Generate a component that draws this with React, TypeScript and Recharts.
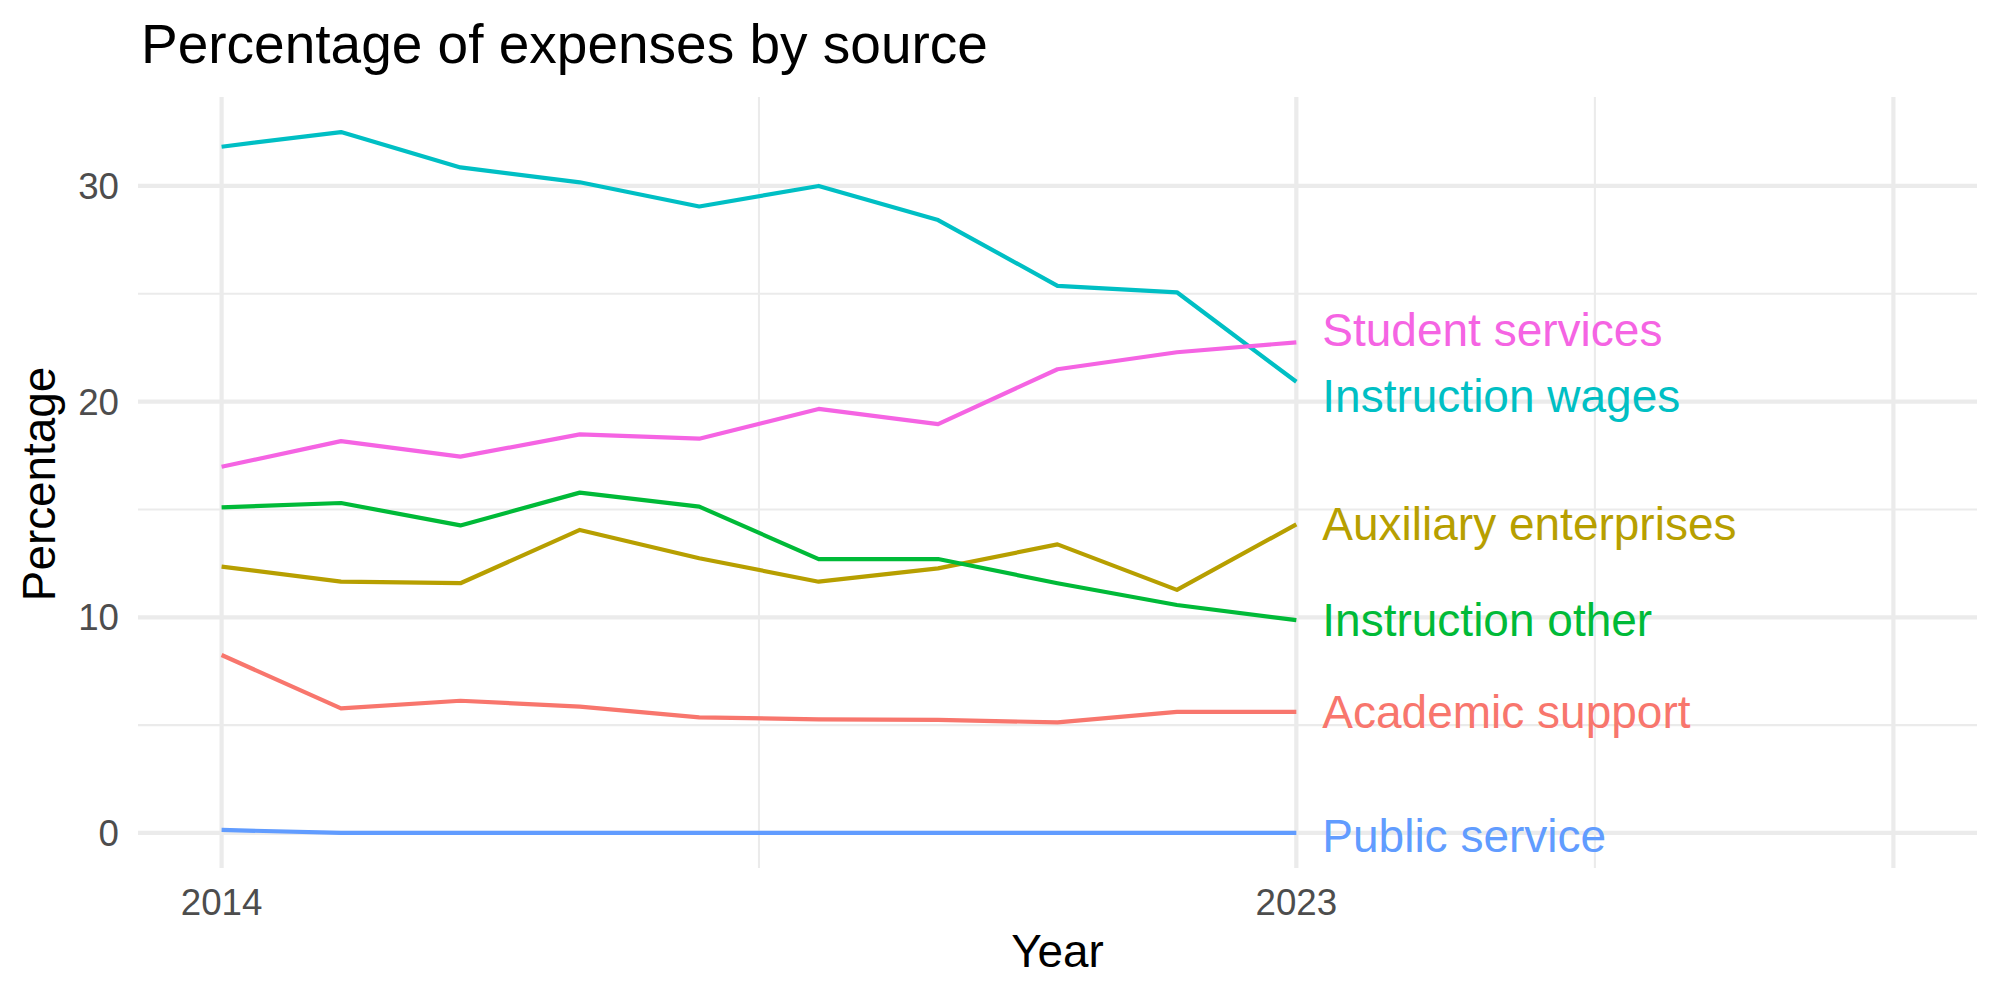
import { LineChart, Line, XAxis, YAxis, ReferenceLine, LabelList } from 'recharts';

const FONT = '"Liberation Sans", Arial, Helvetica, sans-serif';

const years = [2014, 2015, 2016, 2017, 2018, 2019, 2020, 2021, 2022, 2023];

const academicSupport = [8.25, 5.78, 6.13, 5.86, 5.36, 5.27, 5.24, 5.13, 5.61, 5.61];
const auxiliaryEnterprises = [12.35, 11.65, 11.58, 14.05, 12.74, 11.65, 12.27, 13.38, 11.27, 14.31];
const instructionOther = [15.1, 15.3, 14.26, 15.78, 15.13, 12.7, 12.7, 11.58, 10.57, 9.87];
const instructionWages = [31.82, 32.5, 30.86, 30.17, 29.05, 30.0, 28.42, 25.37, 25.07, 20.92];
const publicService = [0.14, 0, 0, 0, 0, 0, 0, 0, 0, 0];
const studentServices = [16.98, 18.17, 17.45, 18.48, 18.28, 19.66, 18.96, 21.5, 22.29, 22.75];

const xTicks = [2014, 2023];
const xMajorGrid = [2014, 2023, 2028];
const xMinorGrid = [2018.5, 2025.5];
const yTicks = [0, 10, 20, 30];
const yMinorGrid = [5, 15, 25];

const series = [
  { key: 'academic', name: 'Academic support', color: '#F8766D', values: academicSupport },
  { key: 'auxiliary', name: 'Auxiliary enterprises', color: '#B79F00', values: auxiliaryEnterprises },
  { key: 'instrOther', name: 'Instruction other', color: '#00BA38', values: instructionOther },
  { key: 'instrWages', name: 'Instruction wages', color: '#00BFC4', values: instructionWages },
  { key: 'public', name: 'Public service', color: '#619CFF', values: publicService },
  { key: 'student', name: 'Student services', color: '#F564E3', values: studentServices },
];

// small vertical pushes so the end labels don't collide (like ggrepel)
const labelNudge: Record<string, number> = {
  'Student services': -12,
  'Instruction wages': 14,
  'Public service': 3,
};

const data = years.map((year, i) => {
  const row: Record<string, number> = { year };
  for (const s of series) row[s.key] = s.values[i];
  return row;
});

const GRID = '#EBEBEB';

function endLabel(name: string, color: string) {
  return (props: any) => {
    const { x, y, index } = props;
    if (index !== years.length - 1) return null;
    return (
      <text
        x={Number(x) + 26}
        y={Number(y) + (labelNudge[name] ?? 0)}
        dy="0.35em"
        fill={color}
        fontSize={46}
        fontFamily={FONT}
      >
        {name}
      </text>
    );
  };
}

export default function App() {
  return (
    <div style={{ position: 'absolute', left: 0, top: 0, width: 2000, height: 1000, background: '#fff' }}>
      <LineChart
        width={2000}
        height={1000}
        data={data}
        margin={{ top: 97, right: 23, bottom: 0, left: 0 }}
      >
        <XAxis
          type="number"
          dataKey="year"
          domain={[2013.3, 2028.7]}
          ticks={xTicks}
          interval={0}
          allowDataOverflow
          axisLine={false}
          tickLine={false}
          tickSize={12}
          tickMargin={9}
          height={132}
          tick={{ fontSize: 36.7, fill: '#4D4D4D', fontFamily: FONT }}
        />
        <YAxis
          type="number"
          domain={[-1.625, 34.125]}
          ticks={yTicks}
          interval={0}
          allowDataOverflow
          axisLine={false}
          tickLine={false}
          tickSize={10}
          tickMargin={9}
          width={138}
          tick={{ fontSize: 36.7, fill: '#4D4D4D', fontFamily: FONT }}
        />
        {yMinorGrid.map((v) => (
          <ReferenceLine key={'ym' + v} y={v} stroke={GRID} strokeWidth={2.1} />
        ))}
        {xMinorGrid.map((v) => (
          <ReferenceLine key={'xm' + v} x={v} stroke={GRID} strokeWidth={2.1} />
        ))}
        {yTicks.map((v) => (
          <ReferenceLine key={'y' + v} y={v} stroke={GRID} strokeWidth={4.2} />
        ))}
        {xMajorGrid.map((v) => (
          <ReferenceLine key={'x' + v} x={v} stroke={GRID} strokeWidth={4.2} />
        ))}
        {series.map((s) => (
          <Line
            key={s.key}
            type="linear"
            dataKey={s.key}
            stroke={s.color}
            strokeWidth={4.2}
            strokeLinejoin="round"
            dot={false}
            activeDot={false}
            isAnimationActive={false}
          >
            <LabelList dataKey={s.key} content={endLabel(s.name, s.color)} />
          </Line>
        ))}
      </LineChart>
      <svg
        width={2000}
        height={1000}
        style={{ position: 'absolute', left: 0, top: 0, pointerEvents: 'none' }}
      >
        <text x={141} y={62.7} fontSize={55} fontFamily={FONT} fill="#000">
          Percentage of expenses by source
        </text>
        <text x={1057.5} y={966.7} fontSize={45.8} fontFamily={FONT} fill="#000" textAnchor="middle">
          Year
        </text>
        <text
          x={55}
          y={484}
          fontSize={45.8}
          fontFamily={FONT}
          fill="#000"
          textAnchor="middle"
          transform="rotate(-90 55 484)"
        >
          Percentage
        </text>
      </svg>
    </div>
  );
}
